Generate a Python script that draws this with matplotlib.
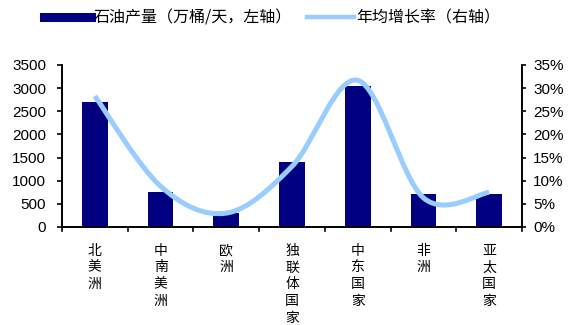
import numpy as np
import matplotlib.pyplot as plt
from matplotlib.path import Path
from matplotlib.patches import PathPatch
from matplotlib.lines import Line2D
from matplotlib.ticker import FuncFormatter, MultipleLocator

plt.rcParams['font.family'] = ['Noto Sans CJK SC', 'DejaVu Sans']

regions = ['北美洲', '中南美洲', '欧洲', '独联体国家', '中东国家', '非洲', '亚太国家']
output = [2700, 750, 300, 1400, 3050, 720, 720]      # 万桶/天
growth = [28.3, 8.8, 3.0, 13.1, 31.7, 6.3, 7.5]      # %

bar_color = '#000080'
line_color = '#99CCFF'

fig = plt.figure(figsize=(5.73, 3.25), dpi=100)
ax = fig.add_axes([62 / 573, 1 - 227 / 325, 460 / 573, 162 / 325])
ax2 = ax.twinx()

x = np.arange(len(regions))
ax.bar(x, output, width=0.39, color=bar_color, zorder=2)
ax.set_xlim(-0.5, len(regions) - 0.5)
ax.set_ylim(0, 3500)
ax.yaxis.set_major_locator(MultipleLocator(500))

# smoothed curve through the growth points (Catmull-Rom as cubic Bezier)
pts = np.column_stack([x, growth]).astype(float)
verts = [tuple(pts[0])]
codes = [Path.MOVETO]
n = len(pts)
for i in range(n - 1):
    p0 = pts[max(i - 1, 0)]
    p1 = pts[i]
    p2 = pts[i + 1]
    p3 = pts[min(i + 2, n - 1)]
    c1 = p1 + (p2 - p0) / 6
    c2 = p2 - (p3 - p1) / 6
    verts += [tuple(c1), tuple(c2), tuple(p2)]
    codes += [Path.CURVE4] * 3
ax2.add_patch(PathPatch(Path(verts, codes), facecolor='none', edgecolor=line_color,
                        lw=3.6, capstyle='butt', zorder=3))
ax2.set_ylim(0, 35)
ax2.yaxis.set_major_locator(MultipleLocator(5))
ax2.yaxis.set_major_formatter(FuncFormatter(lambda v, p: f'{v:.0f}%'))

# category labels written top to bottom
ax.set_xticks(x)
ax.set_xticklabels(['\n'.join(r) for r in regions], fontsize=10, va='top',
                   linespacing=1.25)
ax.tick_params(axis='x', length=0, pad=12)
for b in np.arange(-0.5, len(regions), 1.0):
    ax.plot([b, b], [0, -0.025], transform=ax.get_xaxis_transform(),
            color='black', lw=1.2, clip_on=False)

for a in (ax, ax2):
    a.spines['top'].set_visible(False)
    for s in a.spines.values():
        s.set_linewidth(1.2)
ax.tick_params(axis='y', direction='out', length=3.5, width=1.2, labelsize=11, pad=8)
ax2.tick_params(axis='y', direction='out', length=3, width=1.2, labelsize=11, pad=5)
for t in ax.get_yticklabels() + ax2.get_yticklabels():
    t.set_family(['Liberation Sans', 'DejaVu Sans'])

handles = [Line2D([0], [0], color=bar_color, lw=6.5),
           Line2D([0], [0], color=line_color, lw=3.2)]
labels = ['石油产量（万桶/天，左轴）', '年均增长率（右轴）']
fig.legend(handles, labels, loc='center', bbox_to_anchor=(0.475, 0.945), ncol=2,
           frameon=False, fontsize=11.5, handlelength=2.9, handletextpad=0.15,
           columnspacing=1.0)

fig.savefig('out.png', dpi=100)
